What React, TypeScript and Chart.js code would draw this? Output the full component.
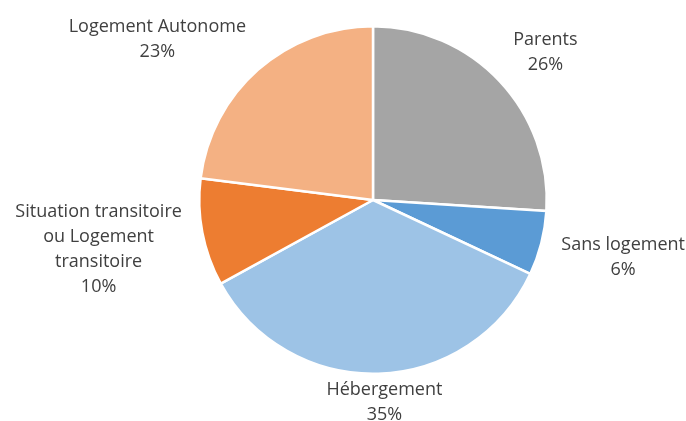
import React, { useEffect, useRef } from "react";
import { Chart, registerables } from "chart.js";

Chart.register(...registerables);

const categories = ["Parents", "Sans logement", "Hébergement", "Situation transitoire|ou Logement|transitoire", "Logement Autonome"];
const values = [26, 6, 35, 10, 23];
const colors = ["#A5A5A5", "#5B9BD5", "#9DC3E6", "#ED7D31", "#F4B183"];

const FONT = "18px 'Open Sans', sans-serif";
const LINE_H = 25;

const labelPlugin = {
  id: "outerLabels",
  afterDatasetsDraw(chart: any) {
    const ctx = chart.ctx;
    const meta = chart.getDatasetMeta(0);
    const total = values.reduce((a, b) => a + b, 0);
    ctx.save();
    ctx.font = FONT;
    ctx.fillStyle = "#404040";
    ctx.textAlign = "center";
    ctx.textBaseline = "middle";
    meta.data.forEach((arc: any, i: number) => {
      const { x, y, startAngle, endAngle, outerRadius } = arc.getProps(["x", "y", "startAngle", "endAngle", "outerRadius"], true);
      const mid = (startAngle + endAngle) / 2;
      const dx = Math.cos(mid);
      const dy = Math.sin(mid);
      const lines = categories[i].split("|").concat([Math.round((values[i] / total) * 100) + "%"]);
      const w = Math.max(...lines.map((l) => ctx.measureText(l).width));
      const h = lines.length * LINE_H;
      const gap = 3 + 14 * Math.abs(dx);
      const k = Math.max(-1, Math.min(1, dx * 3));
      const cx = x + dx * (outerRadius + gap) + k * (w / 2 + 4);
      const cy = y + dy * (outerRadius + gap) + dy * h / 2 + Math.sign(dy) * 4 * Math.abs(dx);
      lines.forEach((l, j) => {
        ctx.fillText(l, cx, cy - h / 2 + LINE_H / 2 + j * LINE_H);
      });
    });
    ctx.restore();
  },
};

export default function App() {
  const ref = useRef<HTMLCanvasElement>(null);
  useEffect(() => {
    if (!ref.current) return;
    const chart = new Chart(ref.current, {
      type: "pie",
      data: {
        labels: categories.map((c) => c.replace(/\|/g, " ")),
        datasets: [
          {
            data: values,
            backgroundColor: colors,
            borderColor: "#FFFFFF",
            borderWidth: 2.5,
          },
        ],
      },
      options: {
        animation: false,
        responsive: false,
        maintainAspectRatio: false,
        layout: { padding: { top: 25, bottom: 46, left: 198, right: 138 } },
        plugins: { legend: { display: false }, tooltip: { enabled: false } },
      },
      plugins: [labelPlugin],
    });
    return () => chart.destroy();
  }, []);
  return (
    <div style={{ position: "absolute", left: 0, top: 0, width: 686, height: 421, background: "#fff" }}>
      <canvas ref={ref} width={686} height={421} style={{ width: 686, height: 421 }} />
    </div>
  );
}
